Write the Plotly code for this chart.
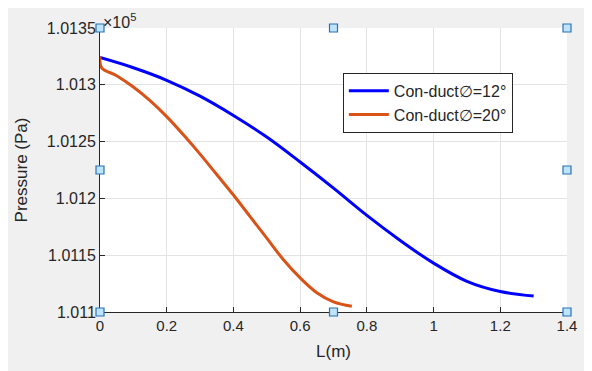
import plotly.graph_objects as go

# Pressure values in units of 1e5 Pa
L_12 = [0, 0.1, 0.2, 0.3, 0.4, 0.5, 0.6, 0.7, 0.8, 0.9, 1.0, 1.1, 1.2, 1.3]
P_12 = [1.01324, 1.01315, 1.01304, 1.01290, 1.01273, 1.01254, 1.01232,
        1.01209, 1.01185, 1.01163, 1.01143, 1.01127, 1.01118, 1.01114]

L_20 = [0, 0.005, 0.05, 0.1, 0.15, 0.2, 0.25, 0.3, 0.35, 0.4, 0.45, 0.5,
        0.55, 0.6, 0.65, 0.7, 0.755]
P_20 = [1.01325, 1.01315, 1.01308, 1.01298, 1.01286, 1.01272, 1.01256,
        1.01239, 1.01221, 1.01203, 1.01184, 1.01165, 1.01146, 1.01130,
        1.01117, 1.01109, 1.01105]

x_ticks = [0, 0.2, 0.4, 0.6, 0.8, 1.0, 1.2, 1.4]
x_labels = ["0", "0.2", "0.4", "0.6", "0.8", "1", "1.2", "1.4"]
y_ticks = [1.011, 1.0115, 1.012, 1.0125, 1.013, 1.0135]
y_labels = ["1.011", "1.0115", "1.012", "1.0125", "1.013", "1.0135"]

FONT = "Arial, Liberation Sans, Helvetica, sans-serif"
TXT = "#262626"

fig = go.Figure()
fig.add_trace(go.Scatter(x=L_12, y=P_12, mode="lines", name="Con-duct∅=12°",
                         line=dict(color="#0000ff", width=3, shape="spline")))
fig.add_trace(go.Scatter(x=L_20, y=P_20, mode="lines", name="Con-duct∅=20°",
                         line=dict(color="#d95319", width=3, shape="spline")))

shapes = []
# selection handles
for hx, hy in [(0, 1), (0.5, 1), (1, 1), (0, 0.5), (1, 0.5), (0, 0), (0.5, 0), (1, 0)]:
    shapes.append(dict(type="rect", xref="paper", yref="paper", xsizemode="pixel",
                       ysizemode="pixel", xanchor=hx, yanchor=hy, x0=-4, x1=4,
                       y0=-4, y1=4, fillcolor="#bfe3f8",
                       line=dict(color="#2a72b5", width=1.2), layer="above"))

fig.update_layout(
    width=592, height=371,
    margin=dict(l=92, r=33, t=20, b=67),
    paper_bgcolor="#f0f0f0", plot_bgcolor="white",
    font=dict(family=FONT, size=15, color=TXT),
    showlegend=True,
    legend=dict(x=0.52, y=0.842, xanchor="left", yanchor="top",
                bgcolor="white", bordercolor="#262626", borderwidth=1,
                font=dict(size=16, color=TXT), tracegroupgap=0,
                itemwidth=40),
    shapes=shapes,
    annotations=[dict(text="×10<sup>5</sup>", xref="paper", yref="paper",
                      x=0.0, y=1.0, xanchor="left", yanchor="bottom",
                      showarrow=False, font=dict(size=16, color=TXT),
                      xshift=1, yshift=-5)],
)
fig.update_xaxes(range=[0, 1.4], tickvals=x_ticks, ticktext=x_labels,
                 showgrid=True, gridcolor="#e3e3e3", gridwidth=1,
                 showline=True, linecolor="#262626", linewidth=1,
                 ticks="inside", ticklen=5, tickcolor="#262626",
                 zeroline=False, tickfont=dict(size=15),
                 title=dict(text="L(m)", font=dict(size=17, color=TXT), standoff=12))
fig.update_yaxes(range=[1.011, 1.0135], tickvals=y_ticks, ticktext=y_labels,
                 showgrid=True, gridcolor="#e3e3e3", gridwidth=1,
                 showline=True, linecolor="#262626", linewidth=1,
                 ticks="inside", ticklen=5, tickcolor="#262626",
                 zeroline=False, tickfont=dict(size=16),
                 title=dict(text="Pressure (Pa)", font=dict(size=17, color=TXT), standoff=14))

fig.write_html("out.html")
